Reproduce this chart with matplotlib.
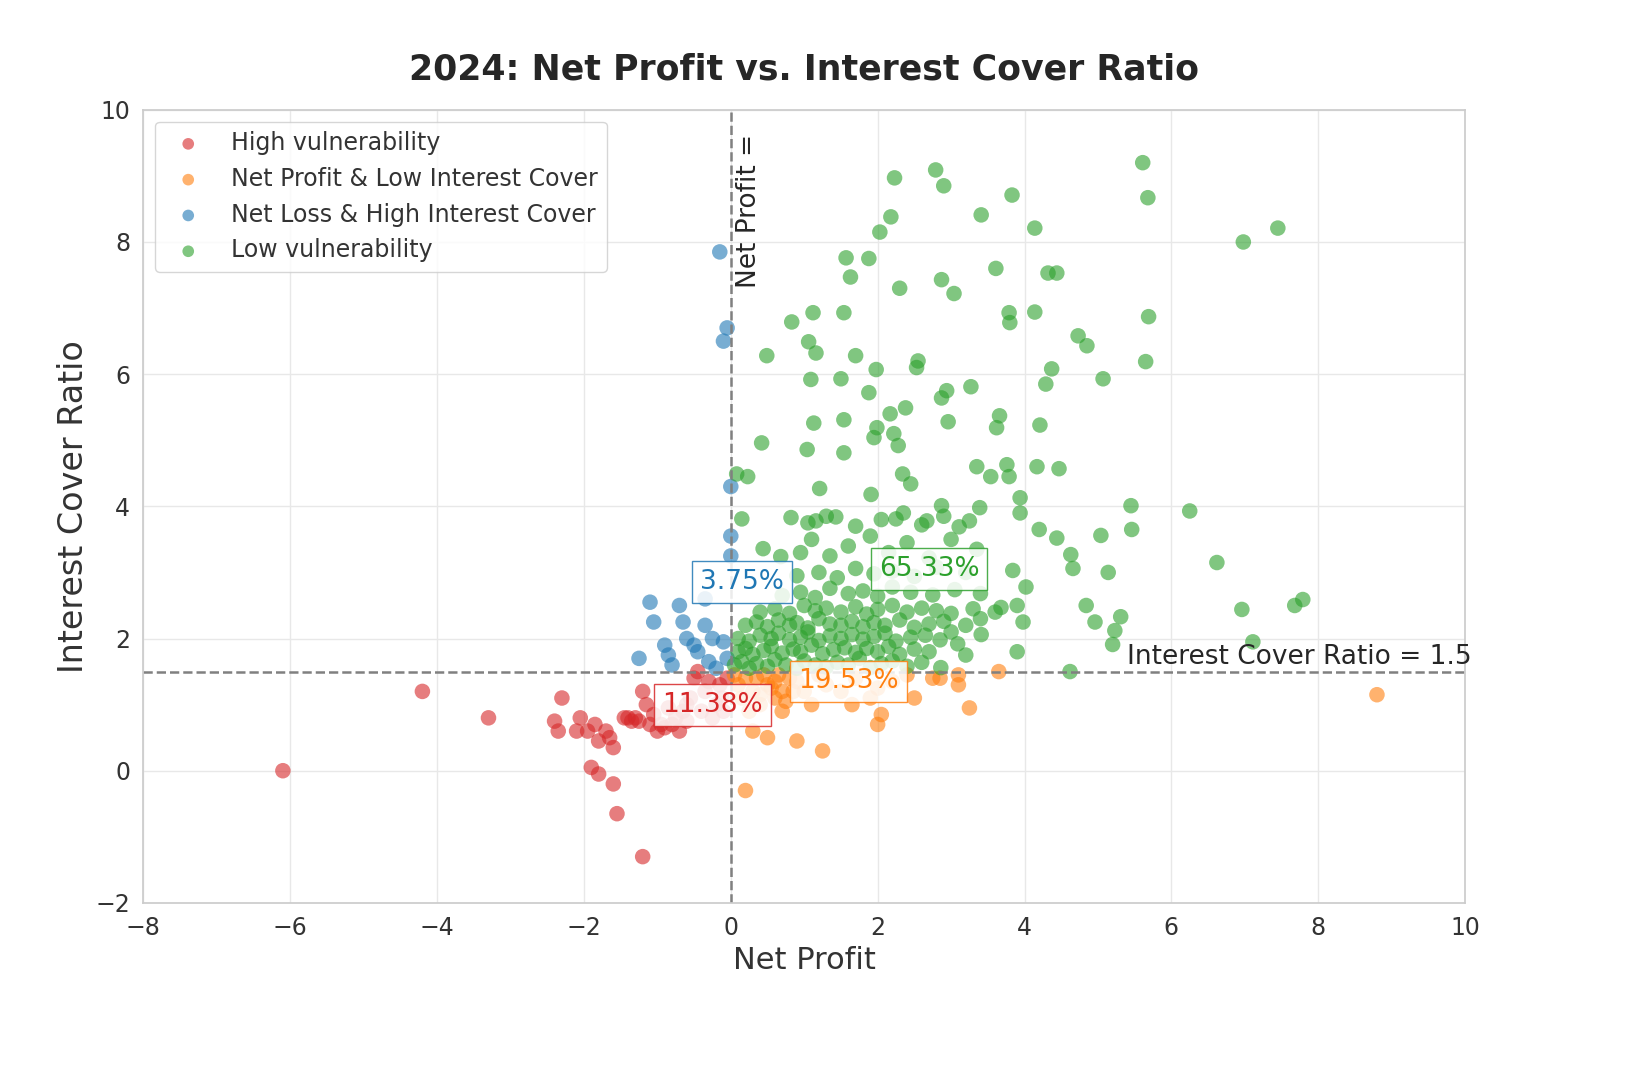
import numpy as np
import matplotlib.pyplot as plt
import seaborn as sns

sns.set_theme(style="whitegrid")
plt.rcParams['font.family'] = ['DejaVu Sans']

# High vulnerability (red)
red_x = [-6.1, -4.2, -3.3, -2.3, -2.4, -2.35, -2.05, -2.1, -1.95, -1.85, -1.8, -1.7, -1.65, -1.6,
         -1.9, -1.8, -1.6, -1.55, -1.2, -1.4, -1.35, -1.3, -1.2, -1.15, -1.1, -1.0, -0.9, -0.8,
         -0.7, -0.6, -0.5, -0.45, -0.35, -0.2, -0.1, -0.25, -0.15, -0.05, -0.4, -1.25, -1.05,
         -0.95, -0.75, -0.65, -0.55, -0.3, -0.85, -1.45, -0.12, -0.6]
red_y = [0.0, 1.2, 0.8, 1.1, 0.75, 0.6, 0.8, 0.6, 0.6, 0.7, 0.45, 0.6, 0.5, 0.35,
         0.05, -0.05, -0.2, -0.65, -1.3, 0.8, 0.75, 0.8, 1.2, 1.0, 0.7, 0.6, 0.65, 0.7,
         0.6, 1.0, 1.4, 1.5, 1.2, 1.0, 0.9, 0.8, 1.3, 1.4, 0.9, 0.75, 0.85,
         0.7, 0.8, 0.9, 1.1, 1.35, 0.95, 0.8, 1.1, 0.75]

# Net loss & high interest cover (blue)
blue_x = [-0.15, -0.05, -0.1, 0.0, 0.0, 0.0, -0.35, -1.1, -1.05, -0.7, -0.6, -0.5, -0.9, -0.85,
          -0.8, -1.25, -0.65, -0.35, -0.25, -0.3, -0.1, -0.05, -0.2, -0.45]
blue_y = [7.85, 6.7, 6.5, 4.3, 3.55, 3.25, 2.6, 2.55, 2.25, 2.5, 2.0, 1.9, 1.9, 1.75,
          1.6, 1.7, 2.25, 2.2, 2.0, 1.65, 1.95, 1.7, 1.55, 1.8]

# Net profit & low interest cover (orange)
orange_x = [0.2, 0.5, 0.3, 0.9, 1.25, 2.0, 2.05, 1.65, 1.1, 0.7, 0.2, 0.3, 0.4, 0.5, 0.6, 0.8,
            1.0, 1.3, 1.5, 1.7, 1.9, 2.2, 2.5, 2.75, 2.85, 3.1, 3.25, 3.65, 3.1, 8.8, 0.15, 0.25,
            0.45, 0.7, 0.9, 1.2, 2.4, 2.0, 0.1, 0.35, 0.55, 0.65, 0.75, 0.85, 0.05, 0.4, 0.6]
orange_y = [-0.3, 0.5, 0.6, 0.45, 0.3, 0.7, 0.85, 1.0, 1.0, 0.9, 1.4, 1.2, 1.0, 1.3, 1.1, 1.4,
            1.2, 1.3, 1.2, 1.4, 1.1, 1.35, 1.1, 1.4, 1.4, 1.3, 0.95, 1.5, 1.45, 1.15, 1.1, 0.9,
            1.45, 1.2, 1.35, 1.45, 1.45, 1.25, 1.3, 1.4, 1.25, 1.45, 1.05, 1.2, 1.45, 1.15, 1.35]

# Low vulnerability (green)
green_x = [2.79, 2.23, 2.9, 5.61, 5.68, 3.83, 3.41, 2.18, 2.03, 4.14, 6.98, 7.45, 1.57, 1.88, 1.63,
           3.61, 4.32, 4.44, 2.3, 2.87, 3.04, 1.12, 0.83, 1.54, 3.79, 4.14, 3.8, 5.69, 1.06, 1.16,
           0.49, 1.7, 2.55, 2.53, 1.98, 4.73, 4.85, 5.65, 4.37, 1.09, 1.5, 4.29, 5.07, 1.88, 2.87,
           2.94, 3.27, 2.38, 2.17, 3.66, 1.13, 1.54, 1.99, 2.22, 2.96, 3.62, 4.21, 0.42, 1.04, 1.54,
           1.95, 2.28, 3.35, 3.76, 4.17, 4.47, 0.08, 0.23, 2.34, 2.45, 3.54, 3.79, 1.21, 1.91, 2.87,
           3.39, 3.94, 3.94, 5.45, 6.25, 0.15, 0.82, 1.16, 1.43, 2.25, 2.67, 3.11, 4.2, 4.44, 5.46,
           5.04, 4.63, 4.66, 5.14, 6.62, 0.44, 0.68, 4.02, 3.84, 4.84, 4.96, 5.31, 5.23, 5.2, 6.96,
           7.68, 7.79, 7.11, 4.62, 3.9, 3.98, 3.9, 3.68, 3.41, 3.09, 2.86, 3.2,
           # dense cluster
           0.05, 0.15, 0.25, 0.35, 0.5, 0.6, 0.75, 0.9, 1.0, 1.15, 1.3, 1.45, 1.6, 1.75, 1.9, 2.05, 2.2, 2.4, 2.6,
           0.1, 0.2, 0.3, 0.45, 0.55, 0.7, 0.85, 0.95, 1.1, 1.25, 1.4, 1.55, 1.7, 1.85, 2.0, 2.15, 2.3, 2.5, 2.7,
           0.1, 0.25, 0.4, 0.55, 0.65, 0.8, 0.95, 1.05, 1.2, 1.35, 1.5, 1.65, 1.8, 1.95, 2.1, 2.25, 2.45, 2.65, 2.85, 3.0,
           0.2, 0.35, 0.5, 0.65, 0.8, 0.9, 1.05, 1.2, 1.35, 1.5, 1.65, 1.8, 1.95, 2.1, 2.3, 2.5, 2.7, 2.9, 3.2, 3.4,
           0.4, 0.6, 0.8, 1.0, 1.15, 1.3, 1.5, 1.7, 1.85, 2.0, 2.2, 2.4, 2.6, 2.8, 3.0, 3.3, 3.6,
           0.7, 0.95, 1.15, 1.35, 1.6, 1.8, 2.0, 2.2, 2.45, 2.75, 3.05, 3.4,
           0.9, 1.2, 1.45, 1.7, 1.95, 2.2, 2.5, 2.8, 3.2,
           0.95, 1.1, 1.35, 1.6, 1.9, 2.15, 2.4, 2.7, 3.0, 3.35,
           1.05, 1.3, 1.7, 2.05, 2.35, 2.6, 2.9, 3.25]
green_y = [9.09, 8.97, 8.85, 9.2, 8.67, 8.71, 8.41, 8.38, 8.15, 8.21, 8.0, 8.21, 7.76, 7.75, 7.47,
           7.6, 7.53, 7.53, 7.3, 7.43, 7.22, 6.93, 6.79, 6.93, 6.93, 6.94, 6.78, 6.87, 6.49, 6.32,
           6.28, 6.28, 6.2, 6.1, 6.07, 6.58, 6.43, 6.19, 6.08, 5.92, 5.93, 5.85, 5.93, 5.72, 5.64,
           5.75, 5.81, 5.49, 5.4, 5.37, 5.26, 5.31, 5.19, 5.1, 5.28, 5.19, 5.23, 4.96, 4.86, 4.81,
           5.04, 4.92, 4.6, 4.63, 4.6, 4.57, 4.49, 4.45, 4.49, 4.34, 4.45, 4.45, 4.27, 4.18, 4.01,
           3.98, 4.13, 3.9, 4.01, 3.93, 3.81, 3.83, 3.78, 3.84, 3.81, 3.78, 3.69, 3.65, 3.52, 3.65,
           3.56, 3.27, 3.06, 3.0, 3.15, 3.36, 3.24, 2.78, 3.03, 2.5, 2.25, 2.33, 2.12, 1.91, 2.44,
           2.5, 2.59, 1.95, 1.5, 1.8, 2.25, 2.5, 2.47, 2.06, 1.92, 1.56, 1.75,
           1.6, 1.65, 1.55, 1.62, 1.58, 1.68, 1.6, 1.55, 1.66, 1.6, 1.57, 1.64, 1.6, 1.7, 1.56, 1.62, 1.66, 1.58, 1.64,
           1.8, 1.85, 1.76, 1.82, 1.88, 1.78, 1.84, 1.8, 1.9, 1.77, 1.83, 1.86, 1.79, 1.85, 1.8, 1.88, 1.76, 1.84, 1.8,
           2.0, 1.96, 2.05, 2.0, 2.08, 1.98, 2.02, 2.1, 1.97, 2.04, 2.0, 2.06, 1.99, 2.03, 2.08, 1.96, 2.02, 2.05, 1.98, 2.1,
           2.2, 2.25, 2.18, 2.28, 2.2, 2.24, 2.16, 2.3, 2.22, 2.2, 2.26, 2.18, 2.24, 2.2, 2.28, 2.17, 2.22, 2.26, 2.2, 2.3,
           2.4, 2.45, 2.38, 2.5, 2.42, 2.46, 2.4, 2.48, 2.37, 2.44, 2.5, 2.4, 2.46, 2.42, 2.38, 2.45, 2.4,
           2.65, 2.7, 2.62, 2.76, 2.68, 2.72, 2.64, 2.78, 2.7, 2.66, 2.74, 2.68,
           2.95, 3.0, 2.92, 3.06, 2.98, 3.02, 2.94, 3.08, 3.0,
           3.3, 3.5, 3.25, 3.4, 3.55, 3.3, 3.45, 3.22, 3.5, 3.35,
           3.75, 3.85, 3.7, 3.8, 3.9, 3.72, 3.85, 3.78]

groups = [
    ("High vulnerability", red_x, red_y, '#d62728'),
    ("Net Profit & Low Interest Cover", orange_x, orange_y, '#ff7f0e'),
    ("Net Loss & High Interest Cover", blue_x, blue_y, '#1f77b4'),
    ("Low vulnerability", green_x, green_y, '#2ca02c'),
]
shares = ["11.38%", "19.53%", "3.75%", "65.33%"]
share_pos = [(-0.25, 1.0), (1.6, 1.35), (0.15, 2.85), (2.7, 3.05)]

fig, ax = plt.subplots(figsize=(16.48, 10.66), dpi=100)
fig.subplots_adjust(left=0.087, right=0.889, top=0.897, bottom=0.153)

for name, xs, ys, col in groups:
    ax.scatter(xs, ys, s=125, color=col, alpha=0.6, edgecolors='none', label=name)

ax.axhline(1.5, color='grey', ls='--', lw=1.8)
ax.axvline(0, color='grey', ls='--', lw=1.8)
ax.text(5.4, 1.72, "Interest Cover Ratio = 1.5", fontsize=19, va='center')
ax.text(0.25, 7.3, "Net Profit =", fontsize=19, rotation=90, va='bottom', ha='center', clip_on=True)

for (name, xs, ys, col), s, (px, py) in zip(groups, shares, share_pos):
    ax.text(px, py, s, fontsize=19, color=col, ha='center', va='center',
            bbox=dict(boxstyle='square,pad=0.3', fc='white', ec=col, alpha=0.85))

ax.set_xlim(-8, 10)
ax.set_ylim(-2, 10)
ax.set_xticks(range(-8, 11, 2))
ax.set_yticks(range(-2, 11, 2))
ax.grid(color='#e8e8e8')
ax.tick_params(labelsize=17, colors='#333333')
ax.set_xlabel("Net Profit", fontsize=22, color='#333333')
ax.set_ylabel("Interest Cover Ratio", fontsize=24, color='#333333')
ax.set_title("2024: Net Profit vs. Interest Cover Ratio", fontsize=25, fontweight='bold', pad=22)
for sp in ax.spines.values():
    sp.set_color('#cccccc')
ax.legend(loc='upper left', fontsize=17, markerscale=0.75, frameon=True, labelcolor='#333333')

fig.savefig("out.png", dpi=100)
